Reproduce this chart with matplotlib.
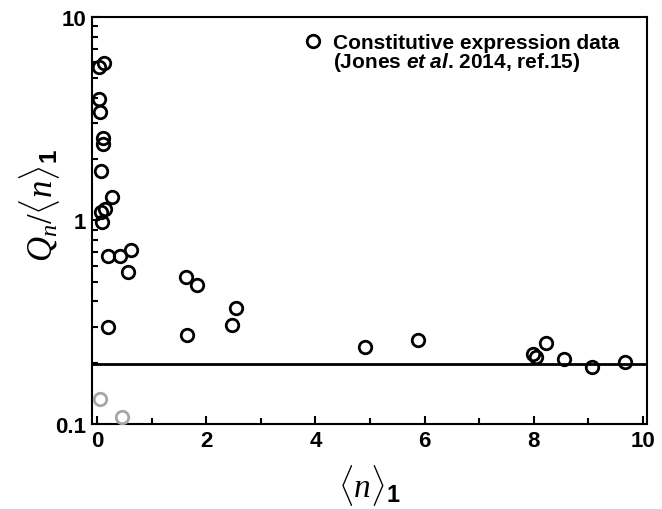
import matplotlib
matplotlib.use("Agg")
import matplotlib.pyplot as plt
from matplotlib.lines import Line2D
from matplotlib.ticker import FixedLocator, FixedFormatter, LogLocator, NullFormatter

plt.rcParams['mathtext.fontset'] = 'custom'
plt.rcParams['mathtext.rm'] = 'Liberation Serif'
plt.rcParams['mathtext.it'] = 'Liberation Serif:italic'
plt.rcParams['mathtext.bf'] = 'Liberation Sans:bold'
plt.rcParams['mathtext.sf'] = 'Liberation Sans:bold:italic'
plt.rcParams['font.family'] = 'Liberation Sans'

# Constitutive expression data: mean <n>_1 vs Q_n/<n>_1
mean_n = [0.04, 0.13, 0.04, 0.05, 0.12, 0.12, 0.07, 0.27, 0.15, 0.07, 0.10,
          0.21, 0.42, 0.62, 0.57, 0.21, 1.63, 1.83, 1.65, 2.54, 2.47,
          4.91, 5.88, 7.98, 8.05, 8.22, 8.56, 9.06, 9.67]
ratio = [5.66, 5.92, 3.95, 3.42, 2.53, 2.37, 1.75, 1.31, 1.14, 1.10, 0.987,
         0.67, 0.67, 0.72, 0.56, 0.30, 0.53, 0.48, 0.274, 0.373, 0.306,
         0.240, 0.259, 0.220, 0.214, 0.249, 0.209, 0.190, 0.201]

# points drawn in grey
grey_mean_n = [0.05, 0.45]
grey_ratio = [0.133, 0.108]

baseline = 0.197

legend_lines = ['Constitutive expression data',
                '(Jones $\\mathsf{et\\ al}$. 2014, ref.15)']

fig = plt.figure(figsize=(6.62, 5.10), dpi=100)
ax = fig.add_axes([0.139, 0.1667, 0.838, 0.798])

ax.axhline(baseline, color='black', lw=2, zorder=1)
data_line, = ax.plot(mean_n, ratio, 'o', mfc='none', mec='black', ms=9, mew=2,
                     zorder=3, clip_on=False)
ax.plot(grey_mean_n, grey_ratio, 'o', mfc='none', mec='#a6a6a6', ms=9, mew=2,
        zorder=3, clip_on=False)

ax.set_yscale('log')
ax.set_ylim(0.1, 10)
ax.set_xlim(-0.09, 10.07)

ax.xaxis.set_major_locator(FixedLocator([0, 2, 4, 6, 8, 10]))
ax.xaxis.set_minor_locator(FixedLocator([1, 3, 5, 7, 9]))
ax.yaxis.set_major_locator(FixedLocator([0.1, 1, 10]))
ax.yaxis.set_major_formatter(FixedFormatter(['0.1', '1', '10']))
ax.yaxis.set_minor_locator(LogLocator(base=10, subs=range(2, 10)))
ax.yaxis.set_minor_formatter(NullFormatter())

ax.tick_params(which='both', direction='in', top=False, right=False,
               width=1.5, labelsize=16)
ax.tick_params(which='major', length=6, pad=4)
ax.tick_params(which='minor', length=4)
for lbl in ax.get_xticklabels() + ax.get_yticklabels():
    lbl.set_fontweight('bold')

for sp in ax.spines.values():
    sp.set_linewidth(1.5)

ax.set_xlabel(r'$\langle n\rangle_{\mathbf{1}}$', fontsize=24, labelpad=8)
ax.set_ylabel(r'$Q_{n}/\langle n\rangle_{\mathbf{1}}$', fontsize=25)
ax.yaxis.set_label_coords(-0.054, 0.54)

# marker on the first line only, second line without handle
blank = Line2D([], [], linestyle='none')
leg = ax.legend([data_line, blank], legend_lines, loc='upper right',
                frameon=False, prop={'size': 15, 'weight': 'bold'},
                handletextpad=0.35, handlelength=1.2, labelspacing=-0.1,
                borderaxespad=0, bbox_to_anchor=(0.965, 0.98))

fig.savefig('out.png', dpi=100)
